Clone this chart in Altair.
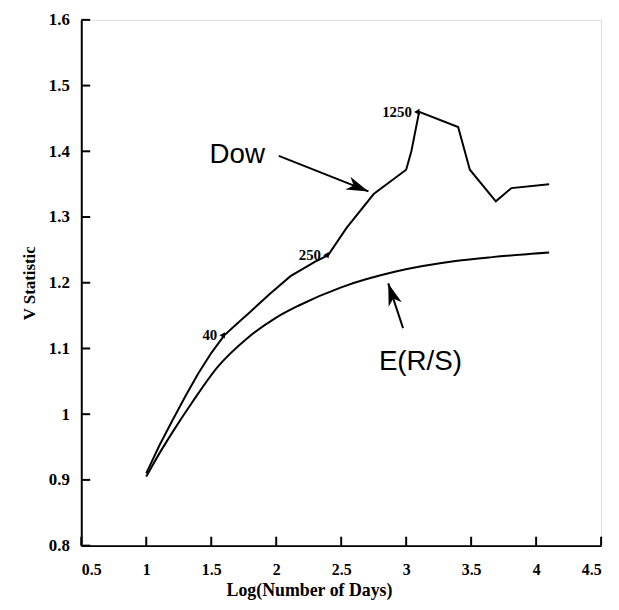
import altair as alt
import pandas as pd

# Dow V statistic
dow_x = [1.0, 1.1, 1.2, 1.3, 1.4, 1.5, 1.6, 1.7, 1.78, 1.95, 2.11, 2.3, 2.4, 2.54, 2.75, 2.85, 3.0, 3.04, 3.1, 3.4, 3.49, 3.69, 3.81, 4.1]
dow_y = [0.91, 0.952, 0.99, 1.027, 1.062, 1.093, 1.12, 1.138, 1.152, 1.183, 1.21, 1.232, 1.242, 1.283, 1.335, 1.35, 1.372, 1.40, 1.46, 1.437, 1.372, 1.324, 1.344, 1.35]

# Expected R/S
ers_x = [1.0, 1.1, 1.2, 1.35, 1.55, 1.78, 2.0, 2.17, 2.5, 2.92, 3.38, 3.66, 4.1]
ers_y = [0.905, 0.94, 0.972, 1.017, 1.072, 1.116, 1.147, 1.165, 1.193, 1.217, 1.233, 1.239, 1.246]

# labelled points (days)
mark_labels = ["40", "250", "1250"]
mark_x = [1.6, 2.398, 3.097]
mark_y = [1.12, 1.242, 1.46]

# annotations
ann_text = ["Dow", "E(R/S)"]
ann_x = [1.70, 3.11]
ann_y = [1.395, 1.08]
arrow_x0 = [2.02, 2.976]
arrow_y0 = [1.393, 1.131]
arrow_x1 = [2.71, 2.862]
arrow_y1 = [1.339, 1.199]
arrow_angle = [111.8, 341.6]

x_ticks = [0.5, 1, 1.5, 2, 2.5, 3, 3.5, 4, 4.5]
y_ticks = [0.8, 0.9, 1.0, 1.1, 1.2, 1.3, 1.4, 1.5, 1.6]

W, H = 525, 531
FONT = "Liberation Serif"

xs = alt.Scale(domain=[0.5, 4.5], nice=False, zero=False)
ys = alt.Scale(domain=[0.8, 1.6], nice=False, zero=False)

dow_df = pd.DataFrame({"x": dow_x, "y": dow_y})
ers_df = pd.DataFrame({"x": ers_x, "y": ers_y})
mk_df = pd.DataFrame({"label": mark_labels, "x": mark_x, "y": mark_y})
ann_df = pd.DataFrame({"t": ann_text, "x": ann_x, "y": ann_y})
arr_df = pd.DataFrame({"x0": arrow_x0, "y0": arrow_y0, "x1": arrow_x1, "y1": arrow_y1, "a": arrow_angle})
xt_df = pd.DataFrame({"xv": x_ticks})
yt_df = pd.DataFrame({"yv": y_ticks})

xaxis = alt.Axis(values=x_ticks, format="~g", ticks=False, tickSize=0, grid=False,
                 labelFont=FONT, labelFontWeight="bold", labelFontSize=16, labelPadding=16,
                 labelColor="black", domainColor="black", domainWidth=2,
                 title="Log(Number of Days)", titleFont=FONT, titleFontWeight="bold",
                 titleFontSize=18, titlePadding=4, titleColor="black", titleX=230)
yaxis = alt.Axis(values=y_ticks, format="~g", ticks=False, tickSize=0, grid=False,
                 labelFont=FONT, labelFontWeight="bold", labelFontSize=17, labelPadding=12,
                 labelColor="black", domainColor="black", domainWidth=2,
                 title="V Statistic", titleFont=FONT, titleFontWeight="bold",
                 titleFontSize=17, titlePadding=10, titleColor="black")

base_dow = alt.Chart(dow_df).mark_line(color="black", strokeWidth=2).encode(
    x=alt.X("x:Q", scale=xs, axis=xaxis),
    y=alt.Y("y:Q", scale=ys, axis=yaxis),
)
ers_line = alt.Chart(ers_df).mark_line(color="black", strokeWidth=2, interpolate="monotone").encode(
    x=alt.X("x:Q", scale=xs), y=alt.Y("y:Q", scale=ys)
)

xticks = alt.Chart(xt_df).mark_tick(color="black", thickness=2, size=9, orient="vertical", opacity=1).encode(
    x=alt.X("xv:Q", scale=xs), y=alt.value(H - 4.5)
)
yticks = alt.Chart(yt_df).mark_tick(color="black", thickness=2, size=9, orient="horizontal", opacity=1).encode(
    y=alt.Y("yv:Q", scale=ys), x=alt.value(4.5)
)

mk_pts = alt.Chart(mk_df).mark_point(shape="triangle-left", filled=True, color="black",
                                     size=40, opacity=1, xOffset=-2).encode(
    x=alt.X("x:Q", scale=xs), y=alt.Y("y:Q", scale=ys)
)
mk_txt = alt.Chart(mk_df).mark_text(font=FONT, fontWeight="bold", fontSize=15, align="right",
                                    baseline="middle", dx=-7, color="black").encode(
    x=alt.X("x:Q", scale=xs), y=alt.Y("y:Q", scale=ys), text="label:N"
)

ann_txt = alt.Chart(ann_df).mark_text(font="Liberation Sans", fontSize=28, align="center",
                                      baseline="middle", color="black").encode(
    x=alt.X("x:Q", scale=xs), y=alt.Y("y:Q", scale=ys), text="t:N"
)
arr_line = alt.Chart(arr_df).mark_rule(color="black", strokeWidth=2).encode(
    x=alt.X("x0:Q", scale=xs), y=alt.Y("y0:Q", scale=ys), x2="x1:Q", y2="y1:Q"
)
arr_head = alt.Chart(arr_df).mark_point(shape="M0,0L0.5,1.6L0,1.15L-0.5,1.6Z", filled=True,
                                        color="black", size=784, opacity=1).encode(
    x=alt.X("x1:Q", scale=xs), y=alt.Y("y1:Q", scale=ys), angle=alt.Angle("a:Q", scale=None)
)

chart = alt.layer(base_dow, ers_line, xticks, yticks, mk_pts, mk_txt, ann_txt, arr_line, arr_head).properties(
    width=W, height=H,
    autosize=alt.AutoSizeParams(type="none"),
    padding={"left": 74, "top": 9, "right": 10, "bottom": 60},
).configure_view(stroke="black", strokeWidth=2).configure(background="white")

chart.save("out.html", embed_options={"renderer": "svg", "actions": False})
